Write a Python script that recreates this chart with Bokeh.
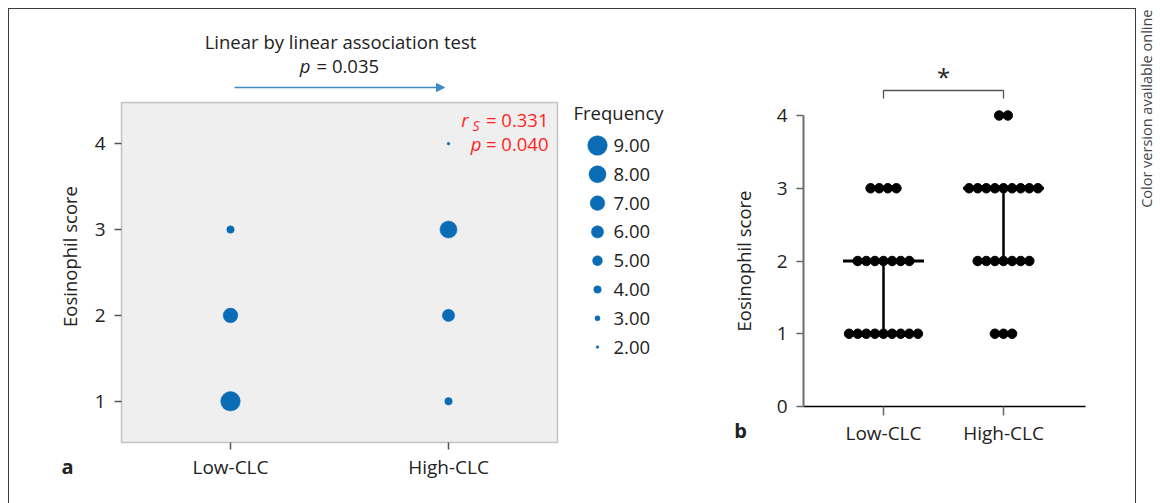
import math
from bokeh.plotting import figure
from bokeh.models import Range1d, Label, Arrow, NormalHead, ColumnDataSource, FixedTicker, BoxAnnotation
from bokeh.layouts import row
from bokeh.embed import file_html
from bokeh.resources import INLINE
from bokeh.core.properties import value

# ---------------- data ----------------
groups = ["Low-CLC", "High-CLC"]
scores = [1, 2, 3, 4]
# panel a: frequency of each eosinophil score per group
freq_low = [9, 7, 4, 0]
freq_high = [4, 6, 8, 2]
legend_freqs = [9, 8, 7, 6, 5, 4, 3, 2]
legend_labels = ["9.00", "8.00", "7.00", "6.00", "5.00", "4.00", "3.00", "2.00"]
# panel b: number of patients per score
count_low = [9, 7, 4, 0]
count_high = [3, 7, 9, 2]
medians = [2, 3]
q1 = [1, 2]
q3 = [2, 3]
yticks_a = [1, 2, 3, 4]
yticks_b = [0, 1, 2, 3, 4]
title_a = "Linear by linear association test"
p_trend = "= 0.035"
rs_text = "= 0.331"
p_rs = "= 0.040"

FONT = "Open Sans"
TXT = "#222222"
BLUE = "#0b6cb6"
ARROW_BLUE = "#3d8bc6"
RED = "#ff1f1f"
FS = "18.5px"
TICK_FS = "19px"


def bubble_size(f):
    return 2.4 * f - 2.1


# ---------------- panel a (page pixel layout) ----------------
A_X0, A_Y0, A_W, A_H = 9, 9, 692, 494          # figure box
A_FL, A_FR, A_FT, A_FB = 121, 557, 102, 442     # plotting box
A_XLIM = (0.5, 2.5)
A_YLIM = (0.52, 4.48)
a_ppx = (A_FR - A_FL) / (A_XLIM[1] - A_XLIM[0])
a_ppy = (A_FB - A_FT) / (A_YLIM[1] - A_YLIM[0])
a_xs = A_XLIM[0] - (A_FL - A_X0) / a_ppx
a_ye = A_YLIM[1] + (A_FT - A_Y0) / a_ppy


def ax_(px):
    return a_xs + (px - A_X0) / a_ppx


def ay_(py):
    return a_ye - (py - A_Y0) / a_ppy


pa = figure(width=A_W, height=A_H, x_range=Range1d(a_xs, a_xs + A_W / a_ppx),
            y_range=Range1d(a_ye - A_H / a_ppy, a_ye),
            output_backend="svg", toolbar_location=None, min_border=0)
pa.outline_line_color = None
pa.grid.visible = False
pa.add_layout(BoxAnnotation(left=A_XLIM[0], right=A_XLIM[1], bottom=A_YLIM[0], top=A_YLIM[1],
                            fill_color="#efefef", fill_alpha=1, line_color="#4d4d4d",
                            line_width=1.5, level="underlay"))

xs, ys, fs = [], [], []
for gi, fr in enumerate([freq_low, freq_high]):
    for s, f in zip(scores, fr):
        if f > 0:
            xs.append(gi + 1)
            ys.append(s)
            fs.append(f)
src_a = ColumnDataSource(dict(x=xs, y=ys, f=fs, size=[bubble_size(f) for f in fs]))
pa.scatter("x", "y", size="size", source=src_a, fill_color=BLUE, line_color=BLUE, line_alpha=0.5)

for ax in [pa.xaxis[0], pa.yaxis[0]]:
    ax.axis_line_color = None
    ax.major_tick_out = 7
    ax.major_tick_in = 0
    ax.minor_tick_line_color = None
    ax.major_tick_line_color = "#555555"
    ax.major_tick_line_width = 1.5
    ax.major_label_text_font = FONT
    ax.major_label_text_font_size = TICK_FS
    ax.major_label_text_color = TXT
    ax.axis_label_text_font = FONT
    ax.axis_label_text_font_size = FS
    ax.axis_label_text_font_style = "normal"
    ax.axis_label_text_color = TXT
pa.xaxis.fixed_location = A_YLIM[0]
pa.yaxis.fixed_location = A_XLIM[0]
pa.xaxis.ticker = FixedTicker(ticks=[1, 2])
pa.xaxis.major_label_overrides = {1: groups[0], 2: groups[1]}
pa.xaxis.major_label_standoff = 4
pa.yaxis.ticker = FixedTicker(ticks=yticks_a)
pa.yaxis.major_label_standoff = 9
pa.yaxis.axis_label = "Eosinophil score"
pa.yaxis.axis_label_standoff = 10

# title, trend p and arrow
cx = ax_(340)
pa.add_layout(Label(x=cx, y=ay_(41), text=title_a, text_align="center", text_baseline="middle",
                    text_font=FONT, text_font_size=FS, text_color=TXT))
pa.add_layout(Label(x=cx, y=ay_(65), text="p", x_offset=-30, text_align="right", text_baseline="middle",
                    text_font=FONT, text_font_size=FS, text_font_style="italic", text_color=TXT))
pa.add_layout(Label(x=cx, y=ay_(65), text=p_trend, x_offset=-24, text_align="left", text_baseline="middle",
                    text_font=FONT, text_font_size=FS, text_color=TXT))
pa.add_layout(Arrow(x_start=ax_(234), y_start=ay_(87), x_end=ax_(444), y_end=ay_(87),
                    line_color=ARROW_BLUE, line_width=1.5,
                    end=NormalHead(size=8, fill_color=ARROW_BLUE, line_color=ARROW_BLUE)))
# red statistics text
rx = ax_(548)
pa.add_layout(Label(x=rx, y=ay_(119), text=rs_text, text_align="right", text_baseline="middle",
                    text_font=FONT, text_font_size=FS, text_color=RED))
pa.add_layout(Label(x=rx, y=ay_(119), text="r", x_offset=-80, text_align="right", text_baseline="middle",
                    text_font=FONT, text_font_size=FS, text_font_style="italic", text_color=RED))
pa.add_layout(Label(x=rx, y=ay_(125), text="S", x_offset=-69, text_align="right",
                    text_baseline="middle", text_font=FONT, text_font_size="14px",
                    text_font_style="italic", text_color=RED))
pa.add_layout(Label(x=rx, y=ay_(143), text=p_rs, text_align="right", text_baseline="middle",
                    text_font=FONT, text_font_size=FS, text_color=RED))
pa.add_layout(Label(x=rx, y=ay_(143), text="p", x_offset=-67, text_align="right", text_baseline="middle",
                    text_font=FONT, text_font_size=FS, text_font_style="italic", text_color=RED))
pa.add_layout(Label(x=ax_(67), y=ay_(466), text="a", text_align="center", text_baseline="middle",
                    text_font=FONT, text_font_size="20px", text_font_style="bold", text_color=TXT))

# legend for bubble sizes
n_leg = len(legend_freqs)
leg_y = [ay_(145 + i * 28.8) for i in range(n_leg)]
src_l = ColumnDataSource(dict(x=[ax_(597)] * n_leg, tx=[ax_(613)] * n_leg, y=leg_y,
                              size=[bubble_size(f) for f in legend_freqs], lab=legend_labels))
pa.scatter("x", "y", size="size", source=src_l, fill_color=BLUE, line_color=BLUE, line_alpha=0.5)
pa.text("tx", "y", text="lab", source=src_l, text_font=value(FONT), text_font_size=value(FS),
        text_baseline="middle", text_align="left", text_color=TXT)
pa.add_layout(Label(x=ax_(573), y=ay_(112), text="Frequency", text_align="left", text_baseline="middle",
                    text_font=FONT, text_font_size=FS, text_color=TXT))

# ---------------- panel b ----------------
B_X0, B_Y0, B_W, B_H = 701, 9, 434, 494
B_X1PX, B_PPX = 883, 120        # pixel of group 1, pixels per group
B_Y0PX, B_PPY = 406, 72.75      # pixel of score 0, pixels per score unit
b_xs = 1 - (B_X1PX - B_X0) / B_PPX
b_ye = (B_Y0PX - B_Y0) / B_PPY


def bx_(px):
    return b_xs + (px - B_X0) / B_PPX


def by_(py):
    return b_ye - (py - B_Y0) / B_PPY


pb = figure(width=B_W, height=B_H, x_range=Range1d(b_xs, b_xs + B_W / B_PPX),
            y_range=Range1d(b_ye - B_H / B_PPY, b_ye),
            output_backend="svg", toolbar_location=None, min_border=0)
pb.outline_line_color = None
pb.grid.visible = False

step = 8.6 / B_PPX
half_med = 40.5 / B_PPX
for gi in range(2):
    g = gi + 1
    pb.segment(x0=[g], y0=[q1[gi]], x1=[g], y1=[q3[gi]], line_color="black", line_width=2.5)
    pb.segment(x0=[g - half_med], y0=[medians[gi]], x1=[g + half_med], y1=[medians[gi]],
               line_color="black", line_width=3)
dx, dy = [], []
for gi, cnt in enumerate([count_low, count_high]):
    for s, n in zip(scores, cnt):
        for i in range(n):
            dx.append(gi + 1 + (i - (n - 1) / 2) * step)
            dy.append(s)
pb.scatter(dx, dy, size=9.5, fill_color="black", line_color="black")

# significance bracket
br_lo, br_hi = by_(98), by_(90)
pb.line(x=[1, 1, 2, 2], y=[br_lo, br_hi, br_hi, br_lo], line_color="#555555", line_width=1.3)
pb.add_layout(Label(x=1.5, y=by_(76), text="*", text_align="center", text_baseline="middle",
                    text_font=FONT, text_font_size="24px", text_color=TXT))

y_axis_x = bx_(803)
pb.xaxis.fixed_location = 0
pb.yaxis.fixed_location = y_axis_x
pb.xaxis.ticker = FixedTicker(ticks=[1, 2])
pb.xaxis.major_label_overrides = {1: groups[0], 2: groups[1]}
pb.xaxis.bounds = (y_axis_x, bx_(1085))
pb.yaxis.ticker = FixedTicker(ticks=yticks_b)
pb.yaxis.bounds = (0, 4)
for ax in [pb.xaxis[0], pb.yaxis[0]]:
    ax.minor_tick_line_color = None
    ax.major_tick_in = 0
    ax.major_tick_line_color = "#666666"
    ax.major_tick_line_width = 1.5
    ax.major_label_text_font = FONT
    ax.major_label_text_font_size = TICK_FS
    ax.major_label_text_color = TXT
    ax.axis_label_text_font = FONT
    ax.axis_label_text_font_size = FS
    ax.axis_label_text_font_style = "normal"
    ax.axis_label_text_color = TXT
pb.xaxis.major_tick_out = 9
pb.xaxis.axis_line_color = "black"
pb.xaxis.axis_line_width = 1.5
pb.xaxis.major_label_standoff = 4
pb.yaxis.major_tick_out = 7
pb.yaxis.axis_line_color = "#6e6e6e"
pb.yaxis.axis_line_width = 2
pb.yaxis.major_label_standoff = 9
pb.yaxis.axis_label = "Eosinophil score"
pb.yaxis.axis_label_standoff = 18
pb.add_layout(Label(x=bx_(740), y=by_(430), text="b", text_align="center", text_baseline="middle",
                    text_font=FONT, text_font_size="20px", text_font_style="bold", text_color=TXT))

# ---------------- side note ----------------
pt = figure(width=23, height=495, x_range=Range1d(0, 23), y_range=Range1d(0, 495),
            output_backend="svg", toolbar_location=None, x_axis_location=None, y_axis_location=None,
            min_border=0)
pt.outline_line_color = None
pt.grid.visible = False
pt.add_layout(Label(x=9.5, y=494, text="Color version available online", angle=math.pi / 2,
                    text_align="right", text_baseline="middle", text_font=FONT,
                    text_font_size="14.5px", text_color="#444444"))

inner = row(pa, pb, styles={"border-top": "1px solid #3c3c3c", "border-left": "1px solid #3c3c3c",
                            "border-right": "1px solid #3c3c3c"})
layout = row(inner, pt, styles={"margin-left": "8px", "margin-top": "8px"})

open("out.html", "w").write(file_html(layout, INLINE))
